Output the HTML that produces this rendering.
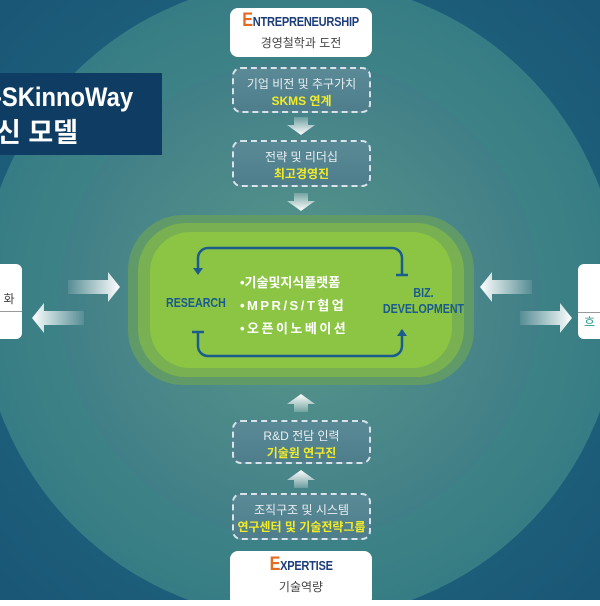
<!DOCTYPE html>
<html><head><meta charset="utf-8"><style>
body{margin:0;width:600px;height:600px;overflow:hidden;font-family:"Liberation Sans","Noto Sans CJK KR",sans-serif;}
#bg{position:absolute;left:0;top:0;width:600px;height:600px;background:radial-gradient(circle at 300px 300px,#4f8f8a 0px,#3f8486 200px,#2d7181 290px,#1d5f7a 300px,#1a5676 420px,#124a6c 600px);overflow:hidden}
.circ{position:absolute;border-radius:50%}
.abs{position:absolute}
.wbox{position:absolute;background:#fff;border-radius:8px;text-align:center;color:#444}
.dbox{position:absolute;border:2px dashed #d8e4ea;border-radius:9px;background:linear-gradient(#5b8a97,#4e7d8b);text-align:center;color:#e8eef0;font-size:12px;box-sizing:border-box}
.y{color:#f2ec28;font-weight:bold;font-size:12px}
.t{font-weight:bold;color:#1d3d7a;font-size:13px;letter-spacing:-0.3px;display:inline-block;transform:scaleX(0.85);transform-origin:center}
.t b{color:#e56a1f;font-size:19px}
.cond{display:inline-block;transform:scaleX(0.82);transform-origin:left}
</style></head><body>
<div id="bg">
<div class="circ" style="left:-20px;top:-20px;width:640px;height:640px;background:radial-gradient(circle,#4d8e89 0%,#3a8085 60%,#2b7082 100%)"></div>
<div class="circ" style="left:60px;top:60px;width:480px;height:480px;background:radial-gradient(circle,#5a988b 0%,#417f88 70%,#3a7787 100%)"></div>
</div>
<div class="abs" style="left:0;top:73px;width:162px;height:82px;background:#0f3c62;color:#fff;font-weight:bold;font-size:27px;line-height:36px;padding-top:6px;box-sizing:border-box;overflow:hidden">
<div class="cond" style="margin-left:-6px;white-space:nowrap;transform:scaleX(0.88)">-SKinnoWay</div><div style="margin-left:-4px">신 모델</div></div>

<div class="wbox" style="left:230px;top:8px;width:142px;height:49px"><div style="height:24px;margin-top:2px;white-space:nowrap"><span class="t"><b>E</b>NTREPRENEURSHIP</span></div><div style="font-size:12px">경영철학과 도전</div></div>
<div class="dbox" style="left:232px;top:67px;width:139px;height:46px;padding-top:6px">기업 비전 및 추구가치<br><span class="y">SKMS 연계</span></div>
<div class="dbox" style="left:232px;top:140px;width:139px;height:47px;padding-top:6px">전략 및 리더십<br><span class="y">최고경영진</span></div>

<svg class="abs" style="left:0;top:0" width="600" height="600">
<defs>
<linearGradient id="gd" x1="0" y1="0" x2="0" y2="1"><stop offset="0" stop-color="#fff" stop-opacity="0.2"/><stop offset="1" stop-color="#fff"/></linearGradient>
<linearGradient id="gu" x1="0" y1="1" x2="0" y2="0"><stop offset="0" stop-color="#fff" stop-opacity="0.2"/><stop offset="1" stop-color="#fff"/></linearGradient>
<linearGradient id="gr" x1="0" y1="0" x2="1" y2="0"><stop offset="0" stop-color="#fff" stop-opacity="0.1"/><stop offset="1" stop-color="#fff"/></linearGradient>
<linearGradient id="gl" x1="1" y1="0" x2="0" y2="0"><stop offset="0" stop-color="#fff" stop-opacity="0.1"/><stop offset="1" stop-color="#fff"/></linearGradient>
</defs>
<path d="M294 117h14v8h7l-14 10-14-10h7z" fill="url(#gd)"/>
<path d="M294 193h14v8h7l-14 10-14-10h7z" fill="url(#gd)"/>
<path d="M294 412h14v-8h7l-14-10-14 10h7z" fill="url(#gu)"/>
<path d="M294 488h14v-8h7l-14-10-14 10h7z" fill="url(#gu)"/>
<path d="M68 280h40v-8l12 15-12 15v-8h-40z" fill="url(#gr)"/>
<path d="M84 311h-40v-8l-12 15 12 15v-8h40z" fill="url(#gl)"/>
<path d="M532 280h-40v-8l-12 15 12 15v-8h40z" fill="url(#gl)"/>
<path d="M520 311h40v-8l12 15-12 15v-8h-40z" fill="url(#gr)"/>
<rect x="128" y="215" width="346" height="170" rx="55" fill="#5f9a68"/>
<rect x="138" y="223" width="326" height="154" rx="48" fill="#78b052"/>
<rect x="150" y="232" width="302" height="136" rx="40" fill="#8cc544"/>
<path d="M198 272v-14a10 10 0 0 1 10-10h184a10 10 0 0 1 10 10v16" fill="none" stroke="#1b5c8f" stroke-width="2.5"/>
<path d="M193 268l5 7 5-7z" fill="#1b5c8f"/><path d="M396 275h12" stroke="#1b5c8f" stroke-width="2.5"/>
<path d="M198 332v14a10 10 0 0 0 10 10h184a10 10 0 0 0 10-10v-16" fill="none" stroke="#1b5c8f" stroke-width="2.5"/>
<path d="M192 332h12" stroke="#1b5c8f" stroke-width="2.5"/><path d="M397 336l5-7 5 7z" fill="#1b5c8f"/>
</svg>
<div class="abs" style="left:166px;top:295px;font-weight:bold;color:#1a5a8e;font-size:13px"><span class="cond">RESEARCH</span></div>
<div class="abs" style="left:374px;top:285px;width:78px;text-align:center;font-weight:bold;color:#1a5a8e;font-size:13px;line-height:16px;white-space:nowrap"><span style="display:inline-block;transform:scaleX(0.82)">BIZ.<br>DEVELOPMENT</span></div>
<div class="abs" style="left:240px;top:271px;color:#fff;font-weight:bold;font-size:13px;line-height:23px;white-space:nowrap">•기술및지식플랫폼<br><span style="letter-spacing:2.5px">•MPR/S/T협업</span><br><span style="letter-spacing:2.5px">•오픈이노베이션</span></div>

<div class="wbox" style="left:-10px;top:264px;width:32px;height:75px;border-radius:6px"><div style="font-size:12px;margin-top:26px;margin-left:6px;border-bottom:1px solid #999;padding-bottom:4px">화</div></div>
<div class="wbox" style="left:578px;top:264px;width:40px;height:75px;border-radius:6px"><div style="font-size:12px;margin-top:48px;color:#2a9a8a;text-align:left;padding-left:6px;border-top:1px solid #999">흐</div></div>

<div class="dbox" style="left:232px;top:420px;width:139px;height:44px;padding-top:5px">R&amp;D 전담 인력<br><span class="y">기술원 연구진</span></div>
<div class="dbox" style="left:232px;top:493px;width:139px;height:47px;padding-top:6px">조직구조 및 시스템<br><span class="y">연구센터 및 기술전략그룹</span></div>
<div class="wbox" style="left:230px;top:551px;width:142px;height:55px"><div style="height:24px;margin-top:3px"><span class="t"><b>E</b>XPERTISE</span></div><div style="font-size:12px">기술역량</div></div>
</body></html>
